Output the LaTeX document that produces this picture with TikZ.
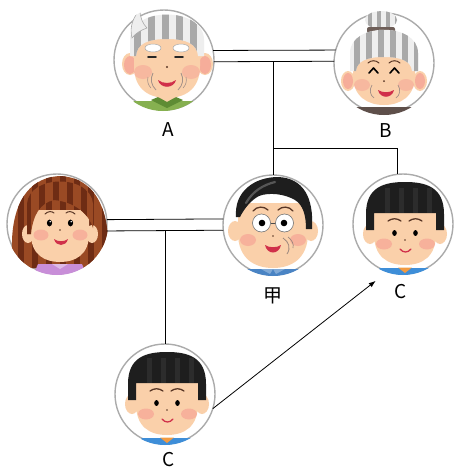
\documentclass[tikz,border=0pt]{standalone}
\usepackage{fontspec}
\newfontfamily\lblfont{Noto Sans CJK JP}
\usetikzlibrary{arrows.meta}

% palette
\definecolor{skin}{HTML}{FAD0AA}
\definecolor{cheek}{HTML}{F6A596}
\definecolor{ring}{HTML}{ABABAB}
\definecolor{hairK}{HTML}{1E1E1E}
\definecolor{hairKs}{HTML}{2C2C2C}
\definecolor{brow}{HTML}{5A3726}
\definecolor{lip}{HTML}{D0304A}
\definecolor{shirtB}{HTML}{3E8ED8}
\definecolor{neck}{HTML}{F29A40}
\definecolor{greyH}{HTML}{A9A9A9}
\definecolor{paleH}{HTML}{EEEEEE}
\definecolor{shirtG}{HTML}{86B050}
\definecolor{shirtGd}{HTML}{5E8C34}
\definecolor{brownH}{HTML}{9A4A24}
\definecolor{brownHd}{HTML}{6E2C14}
\definecolor{purp}{HTML}{C88ED8}
\definecolor{jiaB}{HTML}{4A84C4}
\definecolor{grandmaS}{HTML}{5E4F4A}
\definecolor{bandC}{HTML}{6E5E58}

\tikzset{
  portrait/.style={circle, draw=ring, line width=1.4pt, fill=white,
    minimum size=100pt, inner sep=0pt, outer sep=0pt},
  link/.style={draw=black, line width=0.8pt},
  lbl/.style={font=\lblfont\fontsize{19}{19}\selectfont, inner sep=0pt},
  browline/.style={draw=brow, line width=1.3pt, line cap=round},
  % boy with a bowl cut
  boy/.pic={
    \begin{scope}
    \clip (0,0) circle (51);
    \begin{scope}[shift={(2,0)}]
      \fill[skin] (-35,10) ellipse (7 and 10);
      \fill[skin] (35,10) ellipse (7 and 10);
      \fill[shirtB] (-34,53) -- (-25,44) -- (25,44) -- (34,53) -- cycle;
      \fill[skin] (-31,-12) -- (-31,10) .. controls (-31,33) and (-17,41) .. (0,41)
        .. controls (17,41) and (31,33) .. (31,10) -- (31,-12) -- cycle;
      \fill[neck] (-7,43.5) -- (0,49) -- (7,43.5) -- cycle;
      \fill[cheek, opacity=.7] (-21,20) ellipse (8 and 5.5);
      \fill[cheek, opacity=.7] (22,20) ellipse (8 and 5.5);
      \fill[hairK] (-39,6) -- (-39,-10) .. controls (-39,-37) and (-21,-42) .. (0,-42)
        .. controls (21,-42) and (39,-37) .. (39,-10) -- (39,6) -- (31,6) -- (31,-11)
        -- (-31,-11) -- (-31,6) -- cycle;
      \foreach \s in {-20,-6,8,22} \fill[hairKs] (\s,-36) rectangle ++(5,25);
      \draw[browline] (-17,-3) .. controls (-13,-6) and (-8,-6) .. (-4,-3);
      \draw[browline] (4,-3) .. controls (8,-6) and (13,-6) .. (17,-3);
      \fill[black] (-10.5,9) ellipse (2.3 and 2.9);
      \fill[black] (10.5,9) ellipse (2.3 and 2.9);
      \fill[brow] (0,16) circle (0.9);
      \draw[lip, line width=1.3pt, line cap=round] (-5,25) .. controls (-2,29) and (3,29) .. (6,25);
    \end{scope}
    \end{scope}
  },
  % man with glasses
  jia/.pic={
    \begin{scope}
    \clip (0,0) circle (51);
      \fill[skin] (-38,6) ellipse (7 and 10);
      \fill[skin] (38,6) ellipse (7 and 10);
      \fill[jiaB] (-36,54) -- (-27,44) -- (27,44) -- (36,54) -- cycle;
      \fill[jiaB!70!white] (-12,44) -- (-3,49) -- (0,44) -- (3,49) -- (12,44) -- cycle;
      \fill[skin] (-35,-22) -- (-35,8) .. controls (-35,34) and (-18,43) .. (0,43)
        .. controls (18,43) and (35,34) .. (35,8) -- (35,-22) -- cycle;
      \fill[cheek, opacity=.7] (-25,15) ellipse (8 and 6);
      \fill[cheek, opacity=.7] (25,15) ellipse (8 and 6);
      \fill[hairK] (-37,-8) .. controls (-39,-34) and (-18,-48) .. (5,-48)
        .. controls (30,-47) and (41,-28) .. (39,4) -- (33,4)
        .. controls (33,-10) and (30,-20) .. (22,-25)
        .. controls (12,-31) and (-4,-33) .. (-14,-29)
        .. controls (-22,-25) and (-29,-16) .. (-33,-8) -- cycle;
      \draw[hairKs!80!white, line width=2.2pt, line cap=round] (-27,-22) .. controls (-20,-34) and (-10,-40) .. (2,-43);
      \draw[browline] (-20,-14) .. controls (-16,-19) and (-9,-19) .. (-5,-15);
      \draw[browline] (5,-15) .. controls (9,-19) and (16,-19) .. (20,-14);
      \draw[black!70, line width=0.6pt] (-2.5,-2) -- (2.5,-2);
      \filldraw[fill=white, draw=black!55, line width=0.6pt] (-11.5,-2) circle (9);
      \filldraw[fill=white, draw=black!55, line width=0.6pt] (11.5,-2) circle (9);
      \fill[black] (-11,-2) circle (3.3);
      \fill[black] (11,-2) circle (3.3);
      \fill[brow] (0,11) circle (0.9);
      \draw[brow!60, line width=0.8pt] (10,13) .. controls (16,17) and (18,23) .. (14,29);
      \draw[brow!60, line width=0.7pt] (15,12) .. controls (19,15) and (21,19) .. (20,23);
      \fill[lip] (-8,20) .. controls (-6,30) and (6,30) .. (8,20)
        .. controls (4,23) and (-4,23) .. cycle;
    \end{scope}
  },
  % grandfather with striped hair
  grandpa/.pic={
    \begin{scope}
    \clip (0,0) circle (53);
    \begin{scope}[shift={(3,0)}]
      \fill[skin] (-37,4) ellipse (8 and 11);
      \fill[skin] (38,4) ellipse (8 and 11);
      \fill[cheek, opacity=.8] (-37,5) ellipse (6 and 9);
      \fill[cheek, opacity=.8] (38,5) ellipse (6 and 9);
      \begin{scope}
        \clip (-4,0) circle (51);
        \fill[shirtG] (-42,54) -- (-33,41) -- (33,41) -- (42,54) -- cycle;
      \end{scope}
      \fill[skin] (-10,30) rectangle (10,42);
      \fill[shirtGd] (-16,40) -- (0,48) -- (16,40) -- (9,37) -- (0,42) -- (-9,37) -- cycle;
      \fill[skin] (-33,-25) -- (-33,6) .. controls (-33,30) and (-17,38) .. (0,38)
        .. controls (17,38) and (33,30) .. (33,6) -- (33,-25) -- cycle;
      \fill[cheek, opacity=.55] (-24,12) ellipse (9 and 7);
      \fill[cheek, opacity=.55] (24,12) ellipse (9 and 7);
      \begin{scope}
        \clip (-37,-4) -- (-37,-20) .. controls (-37,-54) and (37,-54) .. (37,-20) -- (37,-4)
          -- (31,-4) .. controls (30,-16) and (20,-21) .. (0,-21)
          .. controls (-20,-21) and (-30,-16) .. (-31,-4) -- cycle;
        \fill[paleH] (-40,-60) rectangle (40,0);
        \foreach \s in {-33,-19,...,35} \fill[greyH] (\s,-60) rectangle ++(7,60);
      \end{scope}
      % stray lock of hair on the crown
      \fill[paleH, draw=greyH, line width=0.6pt] (-35,-22) .. controls (-38,-34) and (-33,-44) .. (-27,-50)
        .. controls (-27,-42) and (-24,-36) .. (-20,-32)
        .. controls (-26,-30) and (-31,-27) .. (-35,-22) -- cycle;
      \filldraw[fill=white, draw=greyH, line width=0.5pt] (-14,-12) ellipse (8 and 4);
      \filldraw[fill=white, draw=greyH, line width=0.5pt] (14,-12) ellipse (8 and 4);
      \draw[black!85, line width=1.8pt, line cap=round] (-19,-3) -- (-11,-3);
      \draw[black!85, line width=1.8pt, line cap=round] (8,-3) -- (16,-3);
      \fill[brow] (0,7) circle (1.2);
      \draw[brow!55, line width=0.8pt] (-14,13) .. controls (-17,19) and (-16,25) .. (-11,30);
      \draw[brow!55, line width=0.8pt] (14,13) .. controls (17,19) and (16,25) .. (11,30);
      \draw[brow!55, line width=0.6pt] (-19,17) .. controls (-20,21) and (-19,25) .. (-16,28);
      \draw[brow!55, line width=0.6pt] (19,17) .. controls (20,21) and (19,25) .. (16,28);
      \fill[lip] (-9,20) .. controls (-7,29) and (7,29) .. (9,20)
        .. controls (4,24) and (-4,24) .. cycle;
    \end{scope}
    \end{scope}
  },
  % grandmother with a bun
  grandma/.pic={
    \begin{scope}
    \clip (0,0) circle (52);
      \begin{scope}
        \clip (-3,-43) ellipse (16 and 9);
        \fill[paleH] (-20,-55) rectangle (15,-30);
        \foreach \s in {-16,-7,2,11} \fill[greyH] (\s,-55) rectangle ++(4,25);
      \end{scope}
      \fill[bandC, rounded corners=2pt] (-17,-36) rectangle (11,-30);
      \fill[skin] (-36,18) ellipse (7 and 10);
      \fill[skin] (36,18) ellipse (7 and 10);
      \fill[cheek, opacity=.8] (-36,18) ellipse (5 and 8);
      \fill[cheek, opacity=.8] (36,18) ellipse (5 and 8);
      \fill[grandmaS] (-38,55) -- (-29,44) -- (29,44) -- (38,55) -- cycle;
      \fill[skin] (-31,-10) -- (-31,12) .. controls (-31,34) and (-16,42) .. (0,42)
        .. controls (16,42) and (31,34) .. (31,12) -- (31,-10) -- cycle;
      \fill[cheek, opacity=.55] (-22,22) ellipse (8 and 6);
      \fill[cheek, opacity=.55] (22,22) ellipse (8 and 6);
      \begin{scope}
        \clip (-34,8) -- (-34,-10) .. controls (-34,-41) and (34,-41) .. (34,-10) -- (34,8)
          -- (28,8) .. controls (27,-2) and (17,-6) .. (0,-6)
          .. controls (-17,-6) and (-27,-2) .. (-28,8) -- cycle;
        \fill[paleH] (-40,-50) rectangle (40,10);
        \foreach \s in {-30,-18,...,30} \fill[greyH] (\s,-50) rectangle ++(6,60);
      \end{scope}
      \draw[brow, line width=1pt, line cap=round] (-16,0) .. controls (-13,-3) and (-8,-3) .. (-5,0);
      \draw[brow, line width=1pt, line cap=round] (5,0) .. controls (8,-3) and (13,-3) .. (16,0);
      \draw[black, line width=1.6pt, line join=round, line cap=round] (-15,10) -- (-10.5,5) -- (-6,10);
      \draw[black, line width=1.6pt, line join=round, line cap=round] (6,10) -- (10.5,5) -- (15,10);
      \fill[brow] (0,18) circle (1);
      \draw[brow!55, line width=0.7pt] (-12,22) .. controls (-15,27) and (-14,32) .. (-10,35);
      \draw[brow!55, line width=0.7pt] (14,22) .. controls (17,27) and (16,32) .. (12,35);
      \fill[lip] (-6,27) .. controls (-4,36) and (8,36) .. (10,27)
        .. controls (5,30) and (-1,30) .. cycle;
    \end{scope}
  },
  % woman with long wavy hair
  woman/.pic={
    \begin{scope}
    \clip (0,0) circle (51);
    \begin{scope}[shift={(3,0)}]
      \begin{scope}
        \clip (-46,44) .. controls (-52,10) and (-47,-46) .. (0,-48)
          .. controls (47,-46) and (52,10) .. (46,44) -- cycle;
        \fill[brownH] (-50,-50) rectangle (50,50);
        \foreach \s in {-42,-28,...,44} \fill[brownHd] (\s,-50) rectangle ++(6,100);
      \end{scope}
      \fill[purp] (-28,54) -- (-22,40) -- (22,40) -- (28,54) -- cycle;
      \fill[purp!60!white] (-8,40) -- (0,45) -- (8,40) -- cycle;
      \fill[skin] (-32,10) ellipse (6 and 9);
      \fill[skin] (32,10) ellipse (6 and 9);
      \fill[skin] (-29,-14) -- (-29,10) .. controls (-29,31) and (-15,38) .. (0,38)
        .. controls (15,38) and (29,31) .. (29,10) -- (29,-14) -- cycle;
      \fill[cheek, opacity=.7] (-19,11) ellipse (7.5 and 5.5);
      \fill[cheek, opacity=.7] (20,11) ellipse (7.5 and 5.5);
      \begin{scope}
        \clip (-33,10) -- (-33,-20) .. controls (-31,-50) and (31,-50) .. (33,-20) -- (33,4)
          .. controls (29,-10) and (15,-22) .. (-6,-24)
          .. controls (-20,-21) and (-27,-9) .. (-29,10) -- cycle;
        \fill[brownH] (-40,-50) rectangle (40,12);
        \foreach \s in {-35,-21,...,34} \fill[brownHd] (\s,-50) rectangle ++(6,62);
      \end{scope}
      \draw[brow, line width=1pt, line cap=round] (-15,-10) .. controls (-12,-13) and (-8,-13) .. (-6,-11);
      \draw[brow, line width=1pt, line cap=round] (6,-11) .. controls (8,-13) and (12,-13) .. (15,-10);
      \fill[black] (-10.5,-1) ellipse (2.6 and 3.4);
      \fill[black] (10.5,-1) ellipse (2.6 and 3.4);
      \fill[white] (-9.8,-2.3) circle (0.8);
      \fill[white] (11.2,-2.3) circle (0.8);
      \fill[brow] (0,6) circle (0.9);
      \fill[lip] (-6,15) .. controls (-4,23) and (6,23) .. (8,15)
        .. controls (4,18) and (-2,18) .. cycle;
    \end{scope}
    \end{scope}
  }
}

\begin{document}
\begin{tikzpicture}[x=1pt, y=-1pt]
  \useasboundingbox (0,0) rectangle (455,472);
  \fill[white] (0,0) rectangle (455,472);

  % portrait frames
  \node[portrait] (a)  at (164,60)  {};
  \node[portrait] (b)  at (384,63)  {};
  \node[portrait] (w)  at (57,224)  {};
  \node[portrait] (j)  at (273,225) {};
  \node[portrait] (c1) at (403,224) {};
  \node[portrait] (c2) at (165,394) {};

  % faces
  \pic at (a)  {grandpa};
  \pic at (b)  {grandma};
  \pic at (w)  {woman};
  \pic at (j)  {jia};
  \pic at (c1) {boy};
  \pic at (c2) {boy};

  % names
  \node[lbl] (la)  at (168,130) {A};
  \node[lbl] (lb)  at (386,131) {B};
  \node[lbl] (lj)  at (273,296) {甲};
  \node[lbl] (lc1) at (401,292) {C};
  \node[lbl] (lc2) at (169,460) {C};

  % marriage A--B (double line) and their descendants
  \draw[link] (a.11.5) -- (b.165);
  \draw[link] (a.-2.3) -- (b.178.9);
  \coordinate (ab)   at (273,62);
  \coordinate (fork) at (273,148);
  \draw[link] (ab) -- (j.north);
  \draw[link] (fork) -| (c1.96);

  % marriage of 甲 and his wife, and their child
  \draw[link] (w.5.7) -- (j.173.1);
  \draw[link] (w.-8) -- (j.186.9);
  \coordinate (wj) at (165,231);
  \draw[link] (wj) -- (c2.north);

  % adoption arrow
  \draw[link, -{Latex[length=7pt, width=5pt]}, shorten >=15pt] (c2.-17) -- (c1.-108);
\end{tikzpicture}
\end{document}
